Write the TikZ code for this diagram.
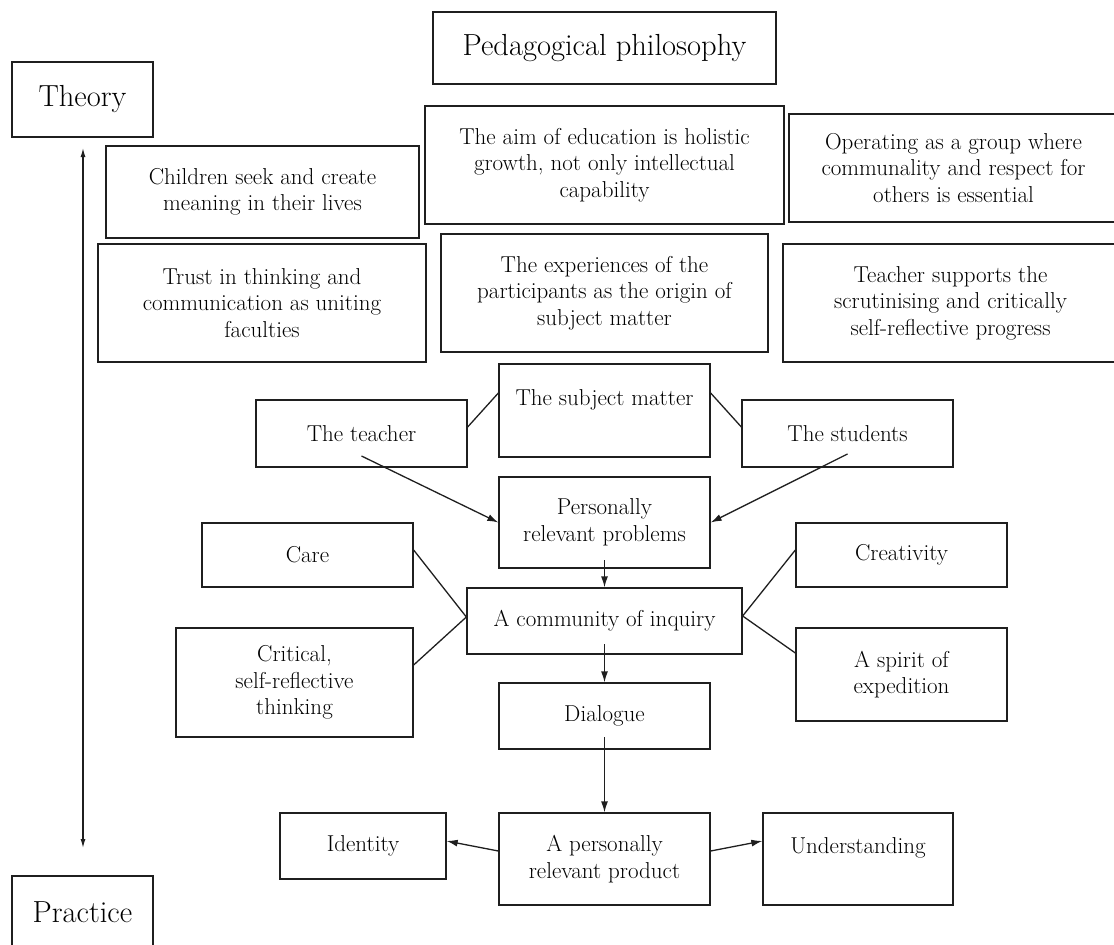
\documentclass[tikz,border=0pt]{standalone}
\usetikzlibrary{arrows.meta,calc}
\begin{document}
\begin{tikzpicture}[x=1pt,y=-1pt,
  box/.style={draw=black!88, line width=1.3pt, inner sep=0pt, align=center,
    font=\fontsize{23}{26.5}\selectfont},
  bigbox/.style={box, font=\fontsize{30.5}{34}\selectfont},
  con/.style={draw=black!88, line width=1.3pt},
  arr/.style={con, -{Latex[length=11pt,width=7pt]}},
  tharr/.style={draw=black!88, line width=1.2pt, {Latex[length=9pt,width=5pt]}-{Latex[length=9pt,width=5pt]}}
]
\useasboundingbox (0,0) rectangle (1114,945);
\newcommand\bx[7][box]{\node[#1, minimum width={(#4-#3)*1pt}, minimum height={(#6-#5)*1pt}] (#2) at ({(#3+#4)/2},{(#5+#6)/2}) {#7};}

\bx[bigbox]{theory}{12}{153}{62}{137}{Theory}
\bx[bigbox]{peda}{433}{776}{12}{84}{Pedagogical philosophy}
\bx[bigbox]{practice}{12}{153}{876}{948}{Practice}

\bx{children}{106}{419}{146}{238}{Children seek and create\\meaning in their lives}
\bx{trust}{98}{426}{244}{362}{Trust in thinking and\\communication as uniting\\faculties}
\bx{aim}{425}{784}{106}{224}{The aim of education is holistic\\growth, not only intellectual\\capability}
\bx{operating}{789}{1118}{114}{222}{Operating as a group where\\communality and respect for\\others is essential}
\bx{exper}{441}{768}{234}{352}{The experiences of the\\participants as the origin of\\subject matter}
\bx{supports}{783}{1118}{244}{362}{Teacher supports the\\scrutinising and critically\\self-reflective progress}

\bx{subject}{499}{710}{364}{457}{The subject matter\\\mbox{}}
\bx{teacher}{256}{467}{400}{467}{The teacher}
\bx{students}{742}{953}{400}{467}{The students}
\bx{probs}{499}{710}{477}{568}{Personally\\relevant problems}
\bx{care}{202}{413}{523}{587}{Care}
\bx{creativity}{796}{1007}{523}{587}{Creativity}
\bx{community}{467}{742}{588}{654}{A community of inquiry}
\bx{critical}{176}{413}{628}{737}{Critical,\\self-reflective\\thinking}
\bx{spirit}{796}{1007}{628}{721}{A spirit of\\expedition}
\bx{dialogue}{499}{710}{683}{749}{Dialogue}
\bx{identity}{280}{446}{813}{879}{Identity}
\bx{product}{499}{710}{813}{905}{A personally\\relevant product}
\bx{understanding}{763}{953}{813}{905}{Understanding\\\mbox{}}

\coordinate (ttop) at (83,148);
\coordinate (tbot) at (83,848);
\draw[tharr] (ttop) -- (tbot);

\draw[con] (teacher.east |- 0,427) -- (subject.west |- 0,393);
\draw[con] (subject.east |- 0,393) -- (students.west |- 0,427);
\draw[arr] (teacher.center |- 0,456) -- (probs.west);
\draw[arr] (students.center |- 0,454) -- (probs.east);
\draw[arr] (probs.center |- 0,560) -- (community.north);
\draw[con] (care.east |- 0,550) -- (community.west |- 0,617);
\draw[con] (critical.east |- 0,665) -- (community.west |- 0,617);
\draw[con] (community.east |- 0,616) -- (creativity.west |- 0,550);
\draw[con] (community.east |- 0,616) -- (spirit.west |- 0,653);
\draw[arr] (community.center |- 0,644) -- (dialogue.north);
\draw[arr] (dialogue.center |- 0,737) -- (product.north);
\draw[arr] (product.west |- 0,851) -- (identity.east |- 0,841);
\draw[arr] (product.east |- 0,851) -- (understanding.west |- 0,841);
\end{tikzpicture}
\end{document}
